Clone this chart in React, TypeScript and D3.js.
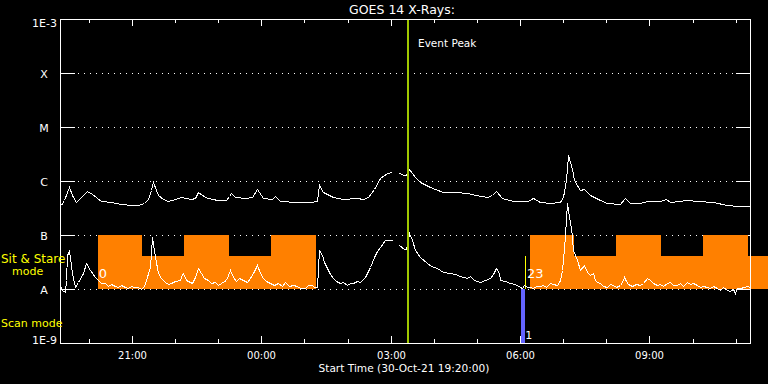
import React from 'react';
import * as d3 from 'd3';

const START_ISO = '2021-10-30T19:20:00Z';
const SPAN_HOURS = 16;
const TITLE = 'GOES 14 X-Rays:';
const X_AXIS_TITLE = 'Start Time (30-Oct-21 19:20:00)';
const EVENT_LABEL = 'Event Peak';
const EVENT_PEAK_HOURS = 8.06;

const Y_LEVELS = [1e-3, 1e-4, 1e-5, 1e-6, 1e-7, 1e-8, 1e-9];
const Y_LABELS = ['1E-3', 'X', 'M', 'C', 'B', 'A', '1E-9'];
const X_TICK_LABELS = ['21:00', '00:00', '03:00', '06:00', '09:00'];

// [hours since start, log10 flux (W/m^2)]
const longChannel: [number, number][] = [
  [0.02, -6.44], [0.09, -6.35], [0.21, -6.12], [0.28, -6.26], [0.37, -6.38], [0.51, -6.28],
  [0.63, -6.18], [0.74, -6.24], [0.95, -6.37], [1.18, -6.39], [1.41, -6.43], [1.65, -6.44],
  [1.81, -6.44], [1.95, -6.41], [2.04, -6.33], [2.11, -6.17], [2.16, -6.01], [2.27, -6.26],
  [2.39, -6.34], [2.5, -6.37], [2.67, -6.34], [2.81, -6.29], [3.04, -6.34], [3.13, -6.32],
  [3.2, -6.21], [3.36, -6.3], [3.53, -6.34], [3.66, -6.35], [3.85, -6.35], [3.92, -6.28],
  [3.97, -6.22], [4.06, -6.3], [4.29, -6.31], [4.45, -6.3], [4.56, -6.15], [4.71, -6.32],
  [4.91, -6.34], [4.99, -6.28], [5.1, -6.37], [5.49, -6.38], [5.8, -6.39], [5.97, -6.37],
  [6.01, -6.07], [6.11, -6.2], [6.34, -6.3], [6.57, -6.33], [6.88, -6.32], [7.03, -6.33],
  [7.15, -6.29], [7.27, -6.14], [7.42, -5.95], [7.58, -5.86], [7.71, -5.83], [7.79, NaN],
  [7.87, -5.86], [7.98, -5.88], [8.02, -5.88], [8.1, -5.77], [8.23, -5.92], [8.35, -6.01],
  [8.58, -6.11], [8.89, -6.2], [9.16, -6.21], [9.43, -6.23], [9.65, -6.26], [9.89, -6.29],
  [10.01, -6.26], [10.11, -6.19], [10.24, -6.32], [10.51, -6.37], [10.86, -6.37], [10.96, -6.32],
  [11.13, -6.38], [11.36, -6.41], [11.59, -6.38], [11.67, -6.29], [11.73, -5.98], [11.77, -5.52],
  [11.87, -5.77], [11.92, -5.98], [12.06, -6.17], [12.14, -6.14], [12.29, -6.26], [12.52, -6.35],
  [12.68, -6.41], [12.99, -6.43], [13.1, -6.32], [13.22, -6.4], [13.45, -6.41], [13.6, -6.37],
  [13.91, -6.37], [14.05, -6.34], [14.15, -6.38], [14.53, -6.35], [14.76, -6.37], [15.15, -6.38],
  [15.46, -6.44], [15.69, -6.46], [16.0, -6.46],
];

const shortChannel: [number, number][] = [
  [0.02, -7.96], [0.05, -8.02], [0.11, -8.05], [0.14, -7.83], [0.17, -7.37], [0.21, -7.29],
  [0.26, -7.56], [0.28, -7.71], [0.34, -7.96], [0.42, -7.87], [0.53, -7.71], [0.61, -7.52],
  [0.69, -7.65], [0.81, -7.78], [0.88, -7.83], [0.95, -7.89], [1.04, -7.89], [1.11, -7.94],
  [1.18, -7.91], [1.27, -7.94], [1.35, -7.97], [1.41, -7.93], [1.5, -7.96], [1.58, -7.98],
  [1.65, -7.94], [1.72, -7.97], [1.81, -7.97], [1.88, -8.0], [1.95, -7.94], [2.0, -7.83],
  [2.08, -7.59], [2.14, -7.03], [2.2, -7.4], [2.27, -7.71], [2.34, -7.8], [2.43, -7.87],
  [2.5, -7.9], [2.58, -7.89], [2.67, -7.85], [2.78, -7.83], [2.82, -7.72], [2.85, -7.71],
  [2.93, -7.83], [3.05, -7.89], [3.14, -7.77], [3.2, -7.62], [3.28, -7.71], [3.34, -7.8],
  [3.43, -7.83], [3.5, -7.89], [3.59, -7.87], [3.66, -7.92], [3.74, -7.89], [3.8, -7.85],
  [3.86, -7.83], [3.9, -7.74], [3.94, -7.65], [4.02, -7.77], [4.08, -7.85], [4.15, -7.8],
  [4.25, -7.83], [4.34, -7.87], [4.41, -7.8], [4.48, -7.71], [4.56, -7.56], [4.64, -7.71],
  [4.71, -7.8], [4.78, -7.85], [4.87, -7.89], [4.96, -7.93], [5.06, -7.89], [5.14, -7.94],
  [5.22, -7.87], [5.31, -7.94], [5.4, -7.92], [5.49, -7.94], [5.57, -7.98], [5.68, -7.99],
  [5.75, -7.93], [5.84, -7.93], [5.9, -7.96], [5.97, -7.96], [6.01, -7.28], [6.07, -7.37],
  [6.12, -7.5], [6.18, -7.62], [6.26, -7.72], [6.34, -7.8], [6.4, -7.85], [6.49, -7.89],
  [6.56, -7.87], [6.65, -7.93], [6.73, -7.89], [6.8, -7.89], [6.88, -7.86], [6.96, -7.87],
  [7.02, -7.82], [7.07, -7.77], [7.14, -7.67], [7.19, -7.59], [7.27, -7.4], [7.34, -7.3],
  [7.42, -7.22], [7.54, -7.09], [7.71, -7.09], [7.79, NaN], [7.87, -7.19], [7.98, -7.25],
  [8.02, -7.25], [8.07, -7.09], [8.1, -6.97], [8.16, -7.09], [8.23, -7.28], [8.35, -7.4],
  [8.5, -7.52], [8.6, -7.57], [8.74, -7.62], [8.88, -7.68], [9.04, -7.71], [9.16, -7.73],
  [9.28, -7.75], [9.43, -7.8], [9.51, -7.76], [9.6, -7.83], [9.74, -7.87], [9.86, -7.83],
  [9.97, -7.8], [10.04, -7.72], [10.11, -7.62], [10.17, -7.7], [10.2, -7.83], [10.32, -7.85],
  [10.44, -7.88], [10.55, -7.91], [10.67, -7.96], [10.71, -7.99], [10.76, -7.93], [10.83, -7.96],
  [10.9, -7.96], [10.97, -7.99], [11.04, -7.94], [11.13, -7.94], [11.2, -7.92], [11.27, -7.96],
  [11.36, -7.89], [11.43, -7.91], [11.52, -7.93], [11.56, -7.87], [11.59, -7.83], [11.63, -7.65],
  [11.67, -7.46], [11.71, -7.0], [11.75, -6.41], [11.78, -6.54], [11.83, -6.78], [11.85, -6.85],
  [11.9, -7.28], [11.98, -7.46], [12.06, -7.65], [12.14, -7.56], [12.21, -7.68], [12.29, -7.74],
  [12.35, -7.7], [12.41, -7.83], [12.46, -7.87], [12.52, -7.89], [12.59, -7.94], [12.68, -7.96],
  [12.75, -7.91], [12.82, -7.93], [12.89, -7.97], [12.99, -7.93], [13.03, -7.87], [13.08, -7.77],
  [13.13, -7.85], [13.17, -7.91], [13.26, -7.94], [13.36, -7.91], [13.45, -7.93], [13.52, -7.89],
  [13.6, -7.8], [13.68, -7.83], [13.75, -7.89], [13.84, -7.93], [13.91, -7.91], [13.98, -7.94],
  [14.07, -7.89], [14.15, -7.87], [14.21, -7.92], [14.3, -7.93], [14.38, -7.89], [14.45, -7.94],
  [14.53, -7.87], [14.61, -7.91], [14.68, -7.89], [14.76, -7.93], [14.84, -7.96], [14.91, -7.94],
  [15.0, -7.96], [15.07, -7.98], [15.14, -7.95], [15.23, -7.99], [15.3, -8.01], [15.37, -7.97],
  [15.46, -8.02], [15.54, -8.04], [15.61, -8.0], [15.65, -8.08], [15.71, -7.98], [15.77, -7.99],
  [15.86, -7.97], [15.93, -7.94], [16.0, -7.96],
];

// Sit & Stare pointings: start/end hours, top level (log10 flux)
const sitStareStarts = [0.881, 1.901, 2.875, 3.919, 4.904, 10.899, 11.919, 12.893, 13.936, 14.91, 15.954];
const sitStareEnds = [1.901, 2.875, 3.919, 4.904, 5.936, 11.919, 12.893, 13.936, 14.91, 15.954, 16.42];
const sitStareTops = [-7, -7.39, -7, -7.39, -7, -7, -7.39, -7, -7.39, -7, -7.39];

const scanStarts = [10.7];
const scanEnds = [10.79];
const pointingMarkerHours = [10.79];

const sitLabels = ['0', '23'];
const sitLabelHours = [0.9, 10.83];
const scanLabels = ['1'];
const scanLabelHours = [10.79];

const FONT = 'DejaVu Sans, sans-serif';
const ORANGE = '#ff8000';
const BLUE = '#6464ff';
const YELLOW = '#ffff00';
const GREEN = '#a0c800';

export default function App() {
  const W = 768, H = 384;
  const L = 60, R = 750, T = 19, B = 343;
  const t0 = new Date(START_ISO).getTime();
  const toDate = (h: number) => new Date(t0 + h * 3600e3);
  const x = d3.scaleUtc().domain([toDate(0), toDate(SPAN_HOURS)]).range([L, R]);
  const y = d3.scaleLog().domain([1e-9, 1e-3]).range([B, T]);
  const xh = (h: number) => x(toDate(h));
  const yl = (lg: number) => y(Math.pow(10, lg));

  const line = d3
    .line<[number, number]>()
    .defined((d) => !isNaN(d[1]))
    .x((d) => Math.round(xh(d[0])) + 0.5)
    .y((d) => Math.round(yl(d[1])) + 0.5);

  const hours = d3.utcHour.range(toDate(0.01), toDate(SPAN_HOURS));
  const majors = hours.filter((d) => d.getUTCHours() % 3 === 0);

  const gridLevels = Y_LEVELS.slice(1, -1);

  return (
    <svg width={W} height={H} style={{ position: 'absolute', left: 0, top: 0, display: 'block' }}>
      <rect x={0} y={0} width={W} height={H} fill="#000" />

      {gridLevels.map((v, i) => {
        const yy = Math.round(y(v)) + 0.5;
        return (
          <g key={'g' + i} stroke="#fff" strokeWidth={1} shapeRendering="crispEdges">
            <line x1={L} x2={L + 15} y1={yy} y2={yy} />
            <line x1={R - 14} x2={R} y1={yy} y2={yy} />
            <line x1={78} x2={735} y1={yy} y2={yy} strokeDasharray="1 5" />
          </g>
        );
      })}

      {sitStareStarts.map((s, i) => {
        const x0 = Math.round(xh(s));
        const x1 = Math.round(xh(sitStareEnds[i]));
        const y0 = Math.round(yl(sitStareTops[i]));
        const y1 = Math.round(y(1e-8));
        return <rect key={'s' + i} x={x0} y={y0} width={x1 - x0} height={y1 - y0} fill={ORANGE} shapeRendering="crispEdges" />;
      })}

      {scanStarts.map((s, i) => {
        const x0 = Math.round(xh(s));
        const x1 = Math.round(xh(scanEnds[i]));
        const y0 = Math.round(y(1e-8));
        return <rect key={'sc' + i} x={x0} y={y0} width={x1 - x0} height={B - y0} fill={BLUE} shapeRendering="crispEdges" />;
      })}

      {pointingMarkerHours.map((h, i) => (
        <line key={'pm' + i} x1={Math.round(xh(h)) + 0.5} x2={Math.round(xh(h)) + 0.5}
          y1={Math.round(yl(-7.39))} y2={Math.round(y(1e-8))} stroke={YELLOW} strokeWidth={1} shapeRendering="crispEdges" />
      ))}

      <path d={line(longChannel) || ''} fill="none" stroke="#fff" strokeWidth={1} shapeRendering="crispEdges" />
      <path d={line(shortChannel) || ''} fill="none" stroke="#fff" strokeWidth={1} shapeRendering="crispEdges" />

      <line x1={xh(EVENT_PEAK_HOURS)} x2={xh(EVENT_PEAK_HOURS)} y1={T} y2={B} stroke={GREEN} strokeWidth={2} shapeRendering="crispEdges" />
      <text x={418} y={47} fill="#fff" fontFamily={FONT} fontSize={10.5}>{EVENT_LABEL}</text>

      <rect x={L + 0.5} y={T + 0.5} width={R - L} height={B - T} fill="none" stroke="#fff" strokeWidth={1} shapeRendering="crispEdges" />

      {hours.map((d, i) => {
        const xx = Math.round(x(d)) + 0.5;
        const len = d.getUTCHours() % 3 === 0 ? 7 : 4;
        return (
          <g key={'t' + i} stroke="#fff" strokeWidth={1} shapeRendering="crispEdges">
            <line x1={xx} x2={xx} y1={T} y2={T + len} />
            <line x1={xx} x2={xx} y1={B} y2={B - len} />
          </g>
        );
      })}
      {majors.map((d, i) => (
        <text key={'xl' + i} x={Math.round(x(d)) + 0.5} y={358.5} fill="#fff" fontFamily={FONT} fontSize={10} textAnchor="middle">
          {X_TICK_LABELS[i]}
        </text>
      ))}
      <text x={404} y={371.5} fill="#fff" fontFamily={FONT} fontSize={10.6} textAnchor="middle">{X_AXIS_TITLE}</text>

      {Y_LEVELS.map((v, i) => {
        const lab = Y_LABELS[i];
        const yy = y(v);
        const long = lab.length > 1;
        const base = i === 0 ? yy + 8 : i === Y_LEVELS.length - 1 ? yy + 1 : yy + 5;
        return (
          <text key={'yl' + i} x={long ? 57 : 44} y={base} fill="#fff" fontFamily={FONT} fontSize={11}
            textAnchor={long ? 'end' : 'middle'}>{lab}</text>
        );
      })}

      <text x={1} y={263} fill={YELLOW} fontFamily={FONT} fontSize={12}>Sit &amp; Stare</text>
      <text x={12} y={275} fill={YELLOW} fontFamily={FONT} fontSize={11}>mode</text>
      <text x={1} y={327} fill={YELLOW} fontFamily={FONT} fontSize={11}>Scan mode</text>

      {sitLabels.map((s, i) => (
        <text key={'sl' + i} x={xh(sitLabelHours[i])} y={277.5} fill="#fff" fontFamily={FONT} fontSize={13}>{s}</text>
      ))}
      {scanLabels.map((s, i) => (
        <text key={'scl' + i} x={xh(scanLabelHours[i])} y={338.5} fill="#fff" fontFamily={FONT} fontSize={11}>{s}</text>
      ))}

      <text x={402} y={14} fill="#fff" fontFamily={FONT} fontSize={12.5} textAnchor="middle">{TITLE}</text>
    </svg>
  );
}
